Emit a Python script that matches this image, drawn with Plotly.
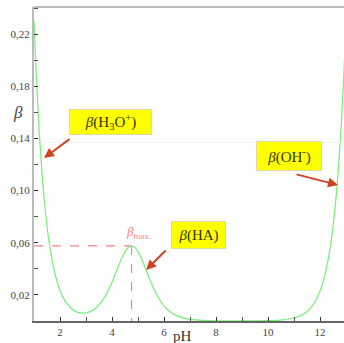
import plotly.graph_objects as go

# pH values and buffer capacity beta
ph = [1.0, 1.1, 1.2, 1.3, 1.4, 1.5, 1.6, 1.8, 2.0, 2.2, 2.4, 2.6, 2.8, 3.0, 3.2, 3.4, 3.6, 3.8,
      4.0, 4.2, 4.4, 4.6, 4.75, 4.9, 5.1, 5.3, 5.5, 5.7, 5.9, 6.1, 6.3, 6.5, 6.8, 7.0, 7.5,
      8.0, 9.0, 10.0, 10.5, 11.0, 11.25, 11.5, 11.75, 12.0, 12.2, 12.4, 12.6, 12.8, 12.9, 13.0]
beta = [0.2303, 0.1830, 0.1454, 0.1155, 0.0918, 0.0729, 0.0580, 0.0368, 0.0234, 0.0152, 0.0102,
        0.00739, 0.00618, 0.00626, 0.00759, 0.01034, 0.0148, 0.0213, 0.0298, 0.0397, 0.0492,
        0.0560, 0.0576, 0.0559, 0.0492, 0.0395, 0.0295, 0.0209, 0.0142, 0.00943, 0.00614,
        0.00395, 0.00202, 0.00128, 0.00041, 0.00013, 0.000036, 0.00023, 0.00073, 0.00230,
        0.00410, 0.00728, 0.01295, 0.02303, 0.0365, 0.0578, 0.0917, 0.1453, 0.1829, 0.2303]

pka = 4.75
beta_max = 0.0576

x_ticks = [2, 4, 6, 8, 10, 12]
x_labels = ["2", "4", "6", "8", "10", "12"]
y_ticks = [0.02, 0.06, 0.10, 0.14, 0.18, 0.22]
y_labels = ["0,02", "0,06", "0,10", "0,14", "0,18", "0,22"]

SERIF = "Liberation Serif"
ARROW = "#cc4422"
PINK = "#ff7f86"

fig = go.Figure()
fig.add_trace(go.Scatter(x=[ph[0], pka], y=[beta_max, beta_max], mode="lines",
                         line=dict(color=PINK, width=1.2, dash="dash"), hoverinfo="skip"))
fig.add_trace(go.Scatter(x=[pka, pka], y=[beta_max, 0], mode="lines",
                         line=dict(color=PINK, width=1.2, dash="dash"), hoverinfo="skip"))
fig.add_trace(go.Scatter(x=ph, y=beta, mode="lines", line=dict(color="#77ee77", width=1.2, shape="spline"),
                         hoverinfo="skip"))

fig.update_layout(
    width=344, height=343,
    margin=dict(l=34, r=0, t=7, b=22),
    paper_bgcolor="white", plot_bgcolor="white",
    showlegend=False,
    font=dict(family=SERIF, size=11, color="#333333"),
    xaxis=dict(range=[1, 12.92], tickvals=x_ticks, ticktext=x_labels, ticks="inside", ticklen=4,
               tickcolor="#333333", showline=True, linecolor="#666666", linewidth=1.5,
               minor=dict(ticks="inside", ticklen=4, tickcolor="#555555", tick0=1, dtick=1),
               showgrid=False, zeroline=False, tickfont=dict(family=SERIF, size=11, color="#444444")),
    yaxis=dict(range=[0, 0.2408], tickvals=y_ticks, ticktext=y_labels, ticks="inside", ticklen=4,
               tickcolor="#333333", showline=True, linecolor="#bbbbbb", linewidth=2,
               minor=dict(ticks="inside", ticklen=4, tickcolor="#555555", tick0=0, dtick=0.02),
               showgrid=False, zeroline=False, tickfont=dict(family=SERIF, size=11, color="#444444")),
    shapes=[
        dict(type="line", xref="paper", yref="paper", x0=0, x1=1, y0=1, y1=1,
             line=dict(color="#bbbbbb", width=2)),
        dict(type="line", xref="paper", yref="y", x0=0.03, x1=1, y0=0.137, y1=0.137,
             line=dict(color="#f2f2f2", width=1)),
    ],
)

annotations = [
    # arrows
    dict(x=1.385, y=0.125, ax=27, ay=-20, text="", showarrow=True, arrowhead=2, arrowsize=1,
         arrowwidth=2, arrowcolor=ARROW),
    dict(x=12.69, y=0.1043, ax=-43, ay=-11, text="", showarrow=True, arrowhead=2, arrowsize=1,
         arrowwidth=2, arrowcolor=ARROW),
    dict(x=5.31, y=0.0391, ax=21, ay=-21, text="", showarrow=True, arrowhead=2, arrowsize=1,
         arrowwidth=2, arrowcolor=ARROW),
    # labels
    dict(x=3.94, y=0.1526, text="<i>β</i>(H<sub>3</sub>O<sup>+</sup>)", showarrow=False,
         bgcolor="#ffff00", bordercolor="#dddd99", borderwidth=1, width=79, height=22,
         font=dict(family=SERIF, size=15, color="#333300")),
    dict(x=10.81, y=0.1265, text="<i>β</i>(OH<sup>-</sup>)", showarrow=False,
         bgcolor="#ffff00", bordercolor="#dddd99", borderwidth=1, width=62, height=26,
         font=dict(family=SERIF, size=15, color="#333300")),
    dict(x=7.33, y=0.066, text="<i>β</i>(HA)", showarrow=False,
         bgcolor="#ffff00", bordercolor="#dddd99", borderwidth=1, width=51, height=24,
         font=dict(family=SERIF, size=15, color="#333300")),
    dict(x=5.0, y=0.068, text="<i>β</i><sub>max.</sub>", showarrow=False,
         font=dict(family=SERIF, size=13, color=PINK)),
    # axis titles
    dict(xref="paper", yref="paper", x=-16 / 310, y=(321 - 112) / 314, text="<i>β</i>",
         xanchor="center", yanchor="middle",
         showarrow=False, font=dict(family=SERIF, size=17, color="#444444")),
    dict(xref="paper", yref="paper", x=(182 - 34) / 310, y=-(336 - 321) / 314, text="pH",
         xanchor="center", yanchor="middle",
         showarrow=False, font=dict(family=SERIF, size=15, color="#333333")),
]
fig.update_layout(annotations=annotations)

fig.write_html("out.html")
